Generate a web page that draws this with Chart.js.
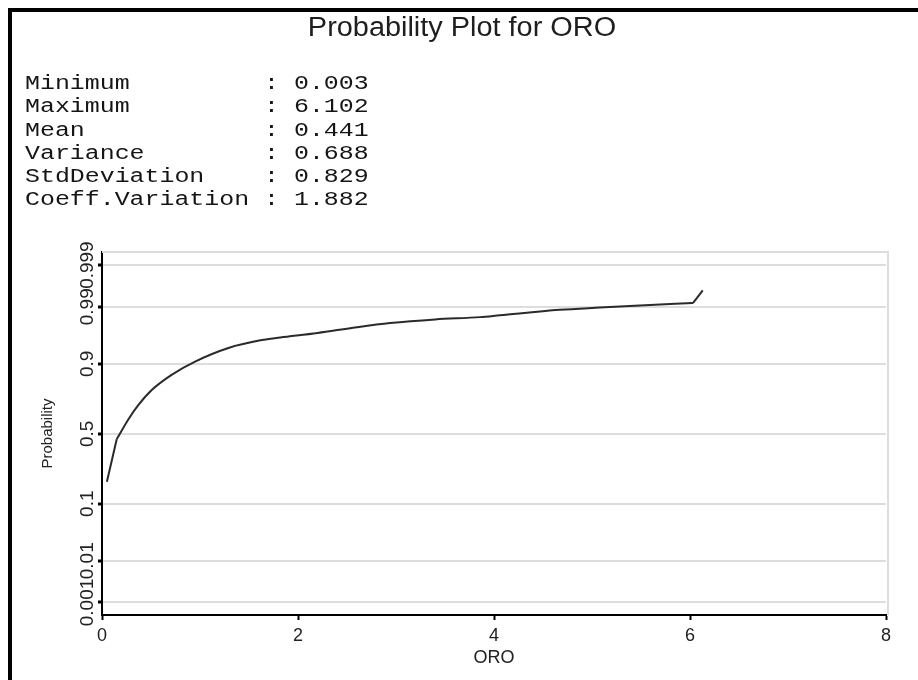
<!DOCTYPE html>
<html>
<head>
<meta charset="utf-8">
<title>Probability Plot for ORO</title>
<script src="https://cdn.jsdelivr.net/npm/chart.js@4.4.0/dist/chart.umd.min.js"></script>
<style>
    html, body { margin: 0; padding: 0; background: #fff; overflow: hidden; }
    #wrap { position: relative; width: 918px; height: 680px; }
    #frame {
        position: absolute; left: 8px; top: 8px; width: 918px; height: 680px;
        border-left: 4px solid #000; border-top: 4px solid #000; pointer-events: none;
    }
</style>
</head>
<body>
<div id="wrap">
    <canvas id="probChart" width="918" height="680"></canvas>
    <div id="frame"></div>
</div>
<script>
// Sample values (ORO) and their cumulative probabilities along the plotted curve
const oroValues = [0.05, 0.15, 0.27, 0.37, 0.51, 0.71, 0.95, 1.29, 1.63, 1.82, 2.2, 2.6, 2.94, 3.4, 3.86, 4.06, 4.67, 5.08, 5.49, 6.03, 6.13];
const cumProb   = [0.19, 0.46, 0.605, 0.70, 0.79, 0.86, 0.907, 0.942, 0.957, 0.961, 0.9676, 0.9745, 0.9787, 0.9819, 0.9837, 0.985, 0.9884, 0.9896, 0.9906, 0.9917, 0.9957];

// Probability axis ticks
const probTicks = [0.001, 0.01, 0.1, 0.5, 0.9, 0.99, 0.999];
const probTickLabels = ['0.001', '0.01', '0.1', '0.5', '0.9', '0.99', '0.999'];

// Summary statistics printed above the plot
const statNames  = ['Minimum', 'Maximum', 'Mean', 'Variance', 'StdDeviation', 'Coeff.Variation'];
const statValues = ['0.003', '6.102', '0.441', '0.688', '0.829', '1.882'];

const chartTitle = 'Probability Plot for ORO';

// Inverse standard normal CDF (Acklam's approximation) for the probability scale
function probit(p) {
    const a = [-3.969683028665376e+01, 2.209460984245205e+02, -2.759285104469687e+02, 1.383577518672690e+02, -3.066479806614716e+01, 2.506628277459239e+00];
    const b = [-5.447609879822406e+01, 1.615858368580409e+02, -1.556989798598866e+02, 6.680131188771972e+01, -1.328068155288572e+01];
    const c = [-7.784894002430293e-03, -3.223964580411365e-01, -2.400758277161838e+00, -2.549732539343734e+00, 4.374664141464968e+00, 2.938163982698783e+00];
    const d = [7.784695709041462e-03, 3.224671290700398e-01, 2.445134137142996e+00, 3.754408661907416e+00];
    const plow = 0.02425, phigh = 1 - plow;
    let q, r;
    if (p < plow) {
        q = Math.sqrt(-2 * Math.log(p));
        return (((((c[0]*q + c[1])*q + c[2])*q + c[3])*q + c[4])*q + c[5]) / ((((d[0]*q + d[1])*q + d[2])*q + d[3])*q + 1);
    }
    if (p <= phigh) {
        q = p - 0.5; r = q * q;
        return (((((a[0]*r + a[1])*r + a[2])*r + a[3])*r + a[4])*r + a[5])*q / (((((b[0]*r + b[1])*r + b[2])*r + b[3])*r + b[4])*r + 1);
    }
    q = Math.sqrt(-2 * Math.log(1 - p));
    return -(((((c[0]*q + c[1])*q + c[2])*q + c[3])*q + c[4])*q + c[5]) / ((((d[0]*q + d[1])*q + d[2])*q + d[3])*q + 1);
}

const points = oroValues.map((x, i) => ({ x: x, y: probit(cumProb[i]) }));
const lastSeg = points.length - 2;

// Title, stats block, rotated probability labels and the light plot frame
const extrasPlugin = {
    id: 'extras',
    beforeDatasetsDraw(chart) {
        const { ctx, chartArea } = chart;
        ctx.save();
        ctx.strokeStyle = '#dddddd';
        ctx.lineWidth = 2;
        ctx.beginPath();
        ctx.moveTo(chartArea.left, chartArea.top);
        ctx.lineTo(chartArea.right + 2, chartArea.top);
        ctx.lineTo(chartArea.right + 2, chartArea.bottom);
        ctx.stroke();
        ctx.restore();
    },
    afterDraw(chart) {
        const { ctx } = chart;
        const yScale = chart.scales.y;

        // main title
        ctx.save();
        ctx.fillStyle = '#1e1e1e';
        ctx.font = '27px "Liberation Sans", Arial, sans-serif';
        ctx.textAlign = 'center';
        ctx.textBaseline = 'middle';
        ctx.translate(462, 29);
        ctx.scale(1.07, 1);
        ctx.fillText(chartTitle, 0, 0);
        ctx.restore();

        // statistics table
        ctx.save();
        ctx.fillStyle = '#151515';
        ctx.font = '20px "Liberation Mono", monospace';
        ctx.textBaseline = 'middle';
        statNames.forEach((name, i) => {
            const line = name.padEnd(16, ' ') + ': ' + statValues[i];
            ctx.save();
            ctx.translate(25, 84 + i * 23.2);
            ctx.scale(1.245, 1);
            ctx.fillText(line, 0, 0);
            ctx.restore();
        });
        ctx.restore();

        // vertical tick labels on the probability axis
        ctx.save();
        ctx.fillStyle = '#222';
        ctx.font = '19px "Liberation Sans", Arial, sans-serif';
        ctx.textAlign = 'center';
        ctx.textBaseline = 'middle';
        probTicks.forEach((p, i) => {
            const y = yScale.getPixelForValue(probit(p));
            ctx.save();
            ctx.translate(88, y);
            ctx.rotate(-Math.PI / 2);
            ctx.fillText(probTickLabels[i], 0, 0);
            ctx.restore();
        });
        ctx.restore();
    }
};

const ctx = document.getElementById('probChart').getContext('2d');
const probChart = new Chart(ctx, {
    type: 'line',
    data: {
        datasets: [
            {
                // smooth body of the curve
                data: points.slice(1, -1),
                borderColor: '#2a2a2a',
                borderWidth: 2,
                pointRadius: 0,
                cubicInterpolationMode: 'monotone',
                fill: false
            },
            {
                // straight first and last steps of the same curve
                data: points,
                borderWidth: 2,
                pointRadius: 0,
                tension: 0,
                fill: false,
                segment: {
                    borderColor: c => (c.p0DataIndex === 0 || c.p0DataIndex === lastSeg) ? '#2a2a2a' : 'rgba(0,0,0,0)'
                }
            }
        ]
    },
    options: {
        responsive: false,
        devicePixelRatio: 1,
        animation: false,
        layout: { padding: { left: 0, right: 32, top: 252, bottom: 0 } },
        plugins: {
            legend: { display: false },
            tooltip: { enabled: false },
            title: { display: false }
        },
        scales: {
            x: {
                type: 'linear',
                min: 0,
                max: 8,
                afterFit(scale) { scale.height = 65; },
                ticks: {
                    stepSize: 2,
                    color: '#222',
                    padding: 5,
                    maxRotation: 0,
                    font: { family: '"Liberation Sans", Arial, sans-serif', size: 18 }
                },
                grid: {
                    display: true,
                    drawOnChartArea: false,
                    drawTicks: true,
                    tickLength: 5,
                    tickColor: '#000',
                    tickWidth: 2
                },
                border: { color: '#000', width: 2 },
                title: {
                    display: true,
                    text: 'ORO',
                    color: '#222',
                    font: { family: '"Liberation Sans", Arial, sans-serif', size: 18 },
                    padding: { top: 0, bottom: 11 }
                }
            },
            y: {
                type: 'linear',
                min: -3.32,
                max: 3.33,
                afterFit(scale) { scale.width = 102; },
                afterBuildTicks(scale) {
                    scale.ticks = probTicks.map(p => ({ value: probit(p) }));
                },
                ticks: { display: false },
                grid: {
                    color: '#dddddd',
                    lineWidth: 2,
                    drawTicks: true,
                    tickLength: 4,
                    tickColor: '#000',
                    tickWidth: 3
                },
                border: { color: '#000', width: 2 },
                title: {
                    display: true,
                    text: 'Probability',
                    color: '#222',
                    font: { family: '"Liberation Sans", Arial, sans-serif', size: 15 },
                    padding: { top: 39, bottom: 0 }
                }
            }
        }
    },
    plugins: [extrasPlugin]
});
</script>
</body>
</html>
